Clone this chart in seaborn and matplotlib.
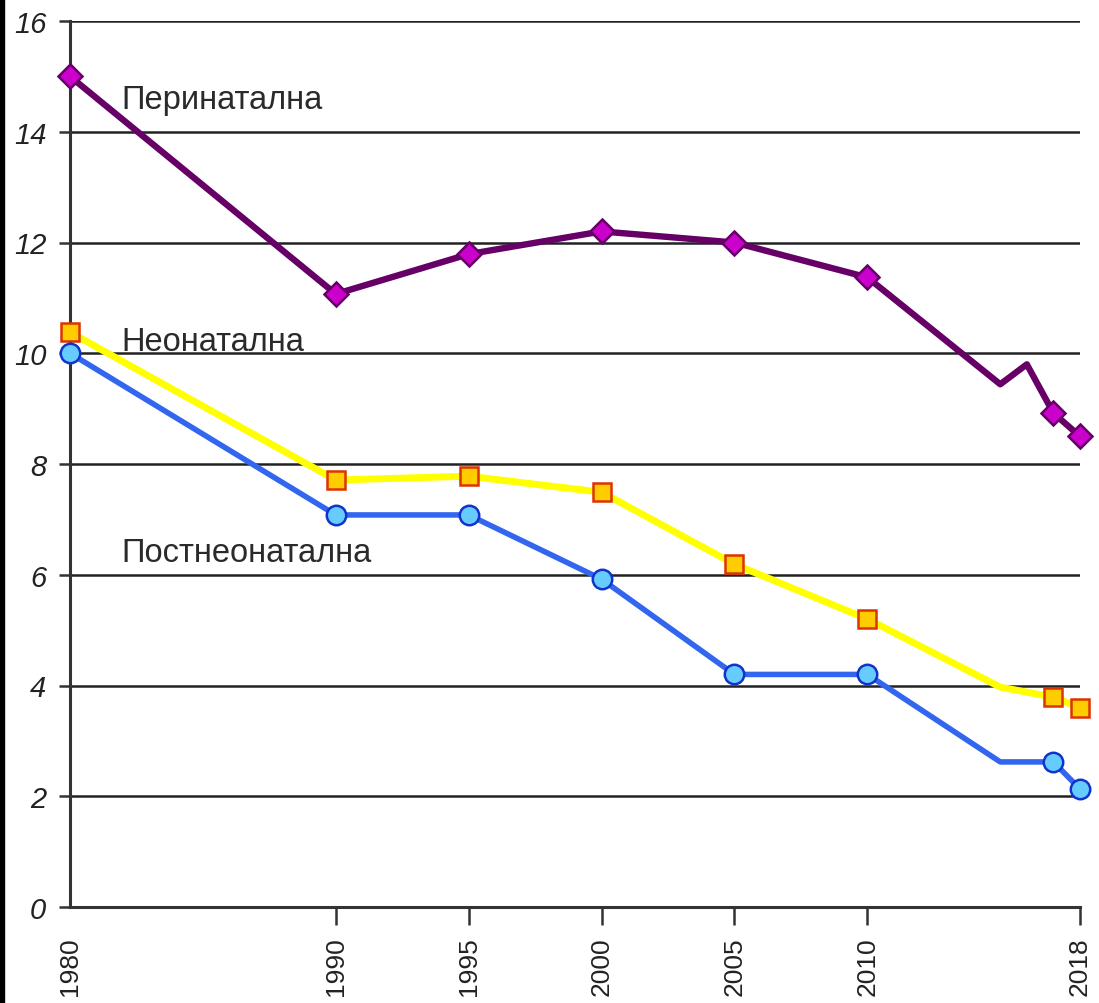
import matplotlib
matplotlib.use("Agg")
import matplotlib.pyplot as plt
import seaborn as sns
import pandas as pd
from matplotlib.patches import Rectangle

years = [1980, 1990, 1995, 2000, 2005, 2010, 2015, 2016, 2017, 2018]
perinatal = [15.0, 11.07, 11.79, 12.2, 12.0, 11.37, 9.44, 9.8, 8.92, 8.5]
neonatal = [10.38, 7.71, 7.78, 7.49, 6.19, 5.2, 3.97, 3.88, 3.79, 3.6]
postneonatal = [10.0, 7.08, 7.08, 5.92, 4.2, 4.2, 2.62, 2.62, 2.62, 2.13]
marker_years = [1980, 1990, 1995, 2000, 2005, 2010, 2017, 2018]
tick_years = [1980, 1990, 1995, 2000, 2005, 2010, 2018]
y_ticks = [0, 2, 4, 6, 8, 10, 12, 14, 16]
labels = ["Перинатална", "Неонатална", "Постнеонатална"]
label_pos = [(1981.95, 14.58), (1981.95, 10.22), (1981.95, 6.41)]

df = pd.DataFrame({"year": years, "Перинатална": perinatal,
                   "Неонатална": neonatal, "Постнеонатална": postneonatal})
dm = df[df["year"].isin(marker_years)]

sns.set_theme(style="white")
plt.rcParams['font.family'] = ['Liberation Sans', 'DejaVu Sans']

fig = plt.figure(figsize=(10.99, 10.04), dpi=100)
ax = fig.add_axes([70/1099, 1 - 908/1004, 1010/1099, 886/1004])

styles = {
    "Перинатална": dict(line="#660066", lw=4.6, marker="D", ms=12.5, fc="#CC00CC", ec="#660066"),
    "Неонатална": dict(line="#FFFF00", lw=5.0, marker="s", ms=13, fc="#FFCC00", ec="#DD3300"),
    "Постнеонатална": dict(line="#3366EE", lw=4.0, marker="o", ms=14, fc="#66CCFF", ec="#1133CC"),
}

for name, st in styles.items():
    sns.lineplot(data=df, x="year", y=name, ax=ax, color=st["line"], lw=st["lw"],
                 clip_on=False, zorder=3)
    ax.plot(dm["year"], dm[name], linestyle="none", marker=st["marker"],
            markersize=st["ms"], markerfacecolor=st["fc"], markeredgecolor=st["ec"],
            markeredgewidth=1.8, clip_on=False, zorder=4)

for lab, (x, y) in zip(labels, label_pos):
    ax.text(x, y, lab, fontsize=23.5, color="#2a2a2a", va="center", ha="left", zorder=5)

ax.set_xlim(1980, 2018)
ax.set_ylim(0, 16)
ax.set_xticks(tick_years)
ax.set_xticklabels([str(t) for t in tick_years], rotation=90, fontsize=19, color="#222222")
ax.set_yticks(y_ticks)
ax.set_yticklabels([str(t) for t in y_ticks], fontsize=21, style="italic", color="#222222")
ax.yaxis.grid(True, color="#222222", linewidth=1.8)
ax.xaxis.grid(False)
ax.set_xlabel("")
ax.set_ylabel("")
for s in ["top", "right"]:
    ax.spines[s].set_visible(False)
for s in ["left", "bottom"]:
    ax.spines[s].set_color("#333333")
    ax.spines[s].set_linewidth(2.2)
ax.tick_params(axis="y", direction="out", length=8, width=1.8, color="#333333", pad=9, left=True)
ax.tick_params(axis="x", direction="out", length=13, width=1.8, color="#333333", pad=8, bottom=True)
ax.xaxis.get_major_ticks()[0].tick1line.set_visible(False)
ax.set_axisbelow(True)

fig.patches.append(Rectangle((0, 0), 4/1099, 1, transform=fig.transFigure,
                             color="black", zorder=10))

fig.savefig("out.png", dpi=100, facecolor="white")
